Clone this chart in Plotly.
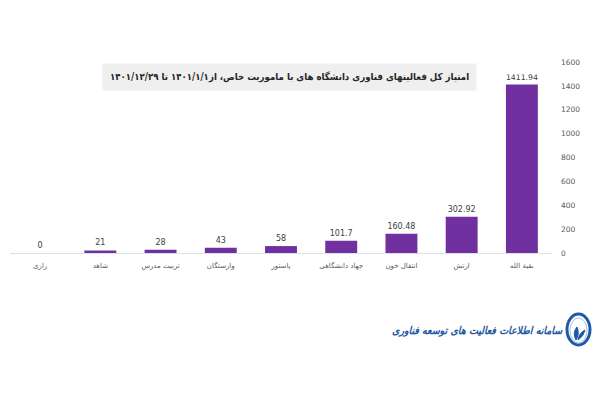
import plotly.graph_objects as go

categories = ["رازی", "شاهد", "تربیت مدرس", "وارستگان", "پاستور",
              "جهاد دانشگاهی", "انتقال خون", "ارتش", "بقیة الله"]
values = [0, 21, 28, 43, 58, 101.7, 160.48, 302.92, 1411.94]
value_labels = ["0", "21", "28", "43", "58", "101.7", "160.48", "302.92", "1411.94"]
y_ticks = [0, 200, 400, 600, 800, 1000, 1200, 1400, 1600]

title_text = "امتیاز کل فعالیتهای فناوری دانشگاه های با ماموریت خاص، از۱۴۰۱/۱/۱ تا ۱۴۰۱/۱۲/۲۹"
logo_text = "سامانه اطلاعات فعالیت های توسعه فناوری"

FONT = "DejaVu Sans"
BLUE = "#1f5aa6"

fig = go.Figure()
fig.add_trace(go.Bar(
    x=categories, y=values,
    marker=dict(color="#7030a0", line=dict(width=0)),
    width=0.53,
    text=value_labels, textposition="outside",
    textfont=dict(size=8, color="#404040", family=FONT),
    cliponaxis=False,
))

fig.update_layout(
    width=600, height=400,
    margin=dict(l=10, r=48, t=62, b=147),
    paper_bgcolor="white", plot_bgcolor="white",
    showlegend=False,
    xaxis=dict(
        type="category", categoryorder="array", categoryarray=categories,
        showgrid=False, showline=True, linecolor="#d9e2ea", linewidth=1,
        ticks="", tickfont=dict(size=7, color="#595959", family=FONT),
        ticklabelstandoff=6,
        fixedrange=True,
    ),
    yaxis=dict(
        side="right", range=[0, 1600], tickvals=y_ticks,
        showgrid=False, zeroline=False, showline=False, ticks="",
        tickfont=dict(size=7.5, color="#595959", family=FONT),
        ticklabelstandoff=8,
    ),
    font=dict(family=FONT),
)

# Title in a gray box
fig.add_annotation(
    xref="paper", yref="paper", x=(289 - 10) / 542, y=(400 - 76.5 - 147) / 191,
    text="<b>" + title_text + "</b>", showarrow=False,
    font=dict(size=9.6, color="#262626", family="DejaVu Sans Condensed, DejaVu Sans"),
    bgcolor="#efefef", borderpad=7, xanchor="center", yanchor="middle",
)

# Logo text
fig.add_annotation(
    xref="paper", yref="paper", x=(565 - 10) / 542, y=-(330 - 253) / 191,
    text="<b><i>" + logo_text + "</i></b>", showarrow=False,
    font=dict(size=10.5, color=BLUE, family="DejaVu Sans Condensed, DejaVu Sans"),
    xanchor="right", yanchor="middle",
)

# Logo emblem (egg-shaped ring with leaves)
def px(xp):
    return (xp - 10) / 542

def py(yp):
    return (253 - yp) / 191

fig.add_shape(type="circle", xref="paper", yref="paper",
              x0=px(567), x1=px(590), y0=py(345), y1=py(314),
              line=dict(color=BLUE, width=3), fillcolor="white")
fig.add_shape(type="circle", xref="paper", yref="paper",
              x0=px(570), x1=px(587), y0=py(343), y1=py(318),
              line=dict(color="#9ec3e6", width=1), fillcolor="rgba(0,0,0,0)")
fig.add_shape(type="path", xref="paper", yref="paper",
              path=f"M {px(576)},{py(340)} Q {px(572)},{py(333)} {px(577)},{py(327)} Q {px(580)},{py(334)} {px(576)},{py(340)} Z",
              line=dict(color=BLUE, width=1), fillcolor=BLUE)
fig.add_shape(type="path", xref="paper", yref="paper",
              path=f"M {px(578)},{py(340)} Q {px(584)},{py(336)} {px(585)},{py(330)} Q {px(579)},{py(333)} {px(578)},{py(340)} Z",
              line=dict(color=BLUE, width=1), fillcolor=BLUE)

fig.write_html("out.html",
               config={"displayModeBar": False},
               post_script="document.body.style.margin='0';document.body.style.overflow='hidden';")
